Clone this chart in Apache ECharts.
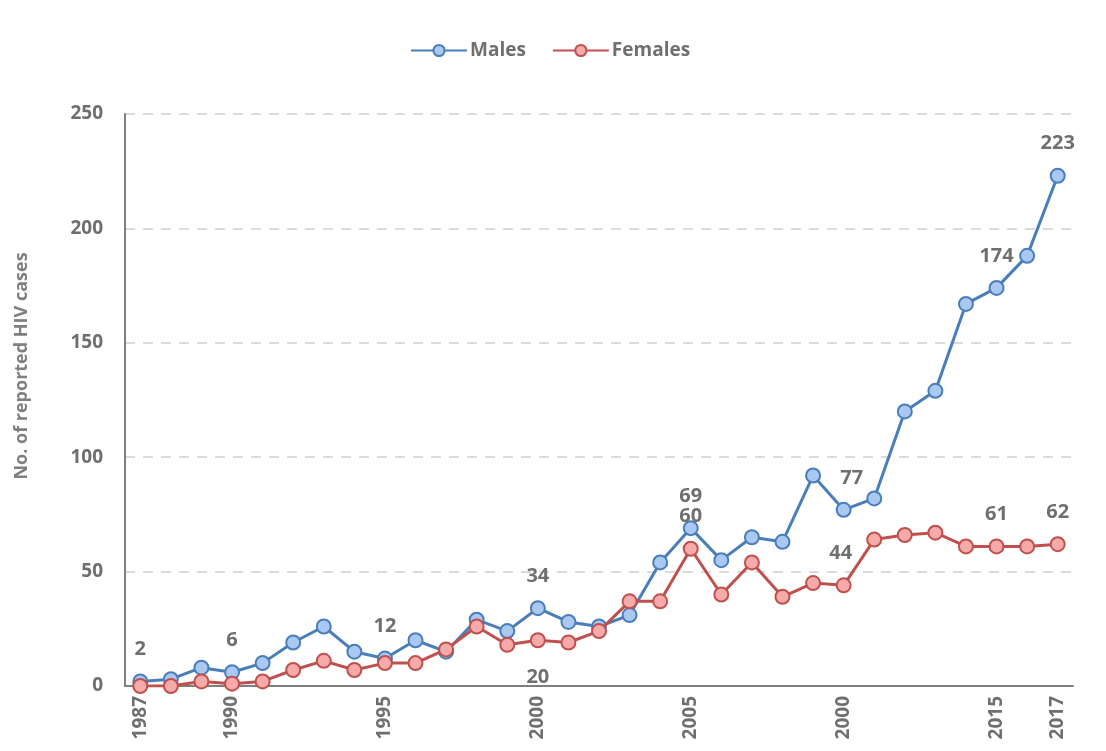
<!DOCTYPE html>
<html>
<head>
<meta charset="utf-8">
<title>Reported HIV cases by sex, 1987–2017</title>
<script src="https://cdn.jsdelivr.net/npm/echarts@6/dist/echarts.min.js"></script>
<style>
  html, body { margin: 0; padding: 0; background: #ffffff; }
  #chart { width: 1106px; height: 751px; }
</style>
</head>
<body>
<div id="chart"></div>
<script>
// Years on the category axis
const years = [1987,1988,1989,1990,1991,1992,1993,1994,1995,1996,1997,1998,1999,2000,2001,2002,
               2003,2004,2005,2006,2007,2008,2009,2010,2011,2012,2013,2014,2015,2016,2017];

// Tick labels printed under the axis (blank = no label)
const tickLabels = {0:'1987', 3:'1990', 8:'1995', 13:'2000', 18:'2005', 23:'2000', 28:'2015', 30:'2017'};

// Reported cases per year
const males   = [2,3,8,6,10,19,26,15,12,20,15,29,24,34,28,26,31,54,69,55,65,63,92,77,82,120,129,167,174,188,223];
const females = [0,0,2,1,2,7,11,7,10,10,16,26,18,20,19,24,37,37,60,40,54,39,45,44,64,66,67,61,61,61,62];

// Points that carry a value label: index -> [position, dx, dy]
const maleLabels   = {0:['top',0,0], 3:['top',0,0], 8:['top',0,0], 13:['top',0,0], 18:['top',0,0],
                      23:['top',8,0], 28:['top',0,0], 30:['top',0,0]};
const femaleLabels = {13:['bottom',0,0], 18:['top',0,0], 23:['top',-3,0], 28:['top',0,0], 30:['top',0,0]};

const labelColor = '#6f6f6f';
const fontFam = '"Open Sans", "Liberation Sans", sans-serif';

function buildData(values, labels) {
  return values.map((v, i) => {
    const l = labels[i];
    if (!l) return { value: v };
    return {
      value: v,
      label: {
        show: true,
        position: l[0],
        distance: l[0] === 'bottom' ? 19 : 14,
        offset: [l[1], l[2]],
        color: labelColor,
        fontSize: 20,
        fontWeight: 'bold',
        fontFamily: fontFam
      }
    };
  });
}

const chart = echarts.init(document.getElementById('chart'), null, { renderer: 'canvas' });

chart.setOption({
  backgroundColor: '#ffffff',
  animation: false,
  legend: {
    top: 36,
    left: 405,
    itemWidth: 56,
    itemHeight: 14,
    itemGap: 26,
    textStyle: { color: '#6f6f6f', fontSize: 19, fontWeight: 'bold', fontFamily: fontFam, padding: [0, 0, 0, -2] },
    data: ['Males', 'Females']
  },
  graphic: [{
    type: 'text',
    x: 22,
    y: 366,
    rotation: Math.PI / 2,
    style: {
      text: 'No. of reported HIV cases',
      fill: '#7f7f7f',
      font: 'bold 18px "Open Sans", "Liberation Sans", sans-serif',
      align: 'center',
      verticalAlign: 'middle'
    }
  }],
  grid: { left: 125, right: 33, top: 114, bottom: 65 },
  xAxis: {
    type: 'category',
    data: years.map(String),
    boundaryGap: true,
    axisLine: { lineStyle: { color: '#7f7f7f', width: 2 } },
    axisTick: { show: false },
    axisLabel: {
      interval: 0,
      rotate: 90,
      margin: 10,
      color: '#6f6f6f',
      fontSize: 19,
      fontWeight: 'bold',
      fontFamily: fontFam,
      formatter: (val, idx) => tickLabels[idx] || ''
    },
    splitLine: { show: false }
  },
  yAxis: {
    type: 'value',
    min: 0,
    max: 250,
    interval: 50,
    axisLine: { show: true, lineStyle: { color: '#7f7f7f', width: 2 } },
    axisTick: { show: false },
    axisLabel: { color: '#6f6f6f', fontSize: 19, fontWeight: 'bold', fontFamily: fontFam, margin: 22 },
    splitLine: { show: true, lineStyle: { color: '#d0d0d0', type: [10, 8], width: 1.5 } }
  },
  series: [
    {
      name: 'Males',
      type: 'line',
      data: buildData(males, maleLabels),
      symbol: 'circle',
      symbolSize: 14,
      lineStyle: { color: '#4a7ebb', width: 3 },
      itemStyle: { color: '#a9c8f2', borderColor: '#4a7ebb', borderWidth: 2 },
      label: { show: false },
      z: 3
    },
    {
      name: 'Females',
      type: 'line',
      data: buildData(females, femaleLabels),
      symbol: 'circle',
      symbolSize: 14,
      lineStyle: { color: '#c0504d', width: 3 },
      itemStyle: { color: '#f6aaaa', borderColor: '#c0504d', borderWidth: 2 },
      label: { show: false },
      z: 4
    }
  ]
});
</script>
</body>
</html>
